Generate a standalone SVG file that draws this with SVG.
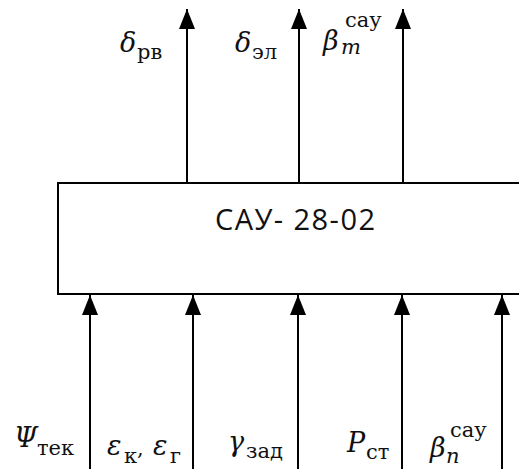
<svg xmlns="http://www.w3.org/2000/svg" width="519" height="469" viewBox="0 0 519 469">
<defs>
<marker id="ah" markerUnits="userSpaceOnUse" markerWidth="20" markerHeight="16" viewBox="0 0 20 16" refX="20" refY="8" orient="auto">
<path d="M0,0 L20,8 L0,16 Z" fill="#000"/>
</marker>
<style>
.ln{stroke:#000;stroke-width:2;fill:none}
.m{font-family:"DejaVu Serif","Liberation Serif",serif;font-style:italic;font-size:27px;fill:#111}
.s{font-family:"DejaVu Serif","Liberation Serif",serif;font-size:21px;fill:#111}
.si{font-family:"DejaVu Serif","Liberation Serif",serif;font-style:italic;font-size:21px;fill:#111}
.t{font-family:"Open Sans","Liberation Sans",sans-serif;font-size:29px;fill:#111}
</style>
</defs>
<rect width="519" height="469" fill="#fff"/>
<g id="connectors">
<line class="ln" x1="187" y1="183" x2="187" y2="9" marker-end="url(#ah)"/>
<line class="ln" x1="299" y1="183" x2="299" y2="9" marker-end="url(#ah)"/>
<line class="ln" x1="403" y1="183" x2="403" y2="9" marker-end="url(#ah)"/>
<line class="ln" x1="90" y1="469" x2="90" y2="295" marker-end="url(#ah)"/>
<line class="ln" x1="193" y1="469" x2="193" y2="295" marker-end="url(#ah)"/>
<line class="ln" x1="298" y1="469" x2="298" y2="295" marker-end="url(#ah)"/>
<line class="ln" x1="402" y1="469" x2="402" y2="295" marker-end="url(#ah)"/>
<line class="ln" x1="502" y1="469" x2="502" y2="295" marker-end="url(#ah)"/>
</g>
<g id="sau">
<rect class="ln" x="58" y="183" width="480" height="111" fill="#fff"/>
<text class="t" x="215" y="230" textLength="160" lengthAdjust="spacing">САУ- 28-02</text>
</g>
<g id="out-labels">
<text class="m" x="120" y="52">δ</text><text class="s" x="137" y="59">рв</text>
<text class="m" x="235" y="52">δ</text><text class="s" x="252" y="59">эл</text>
<text class="m" x="323" y="50">β</text><text class="s" x="345" y="27">сау</text><text class="si" x="341" y="54">m</text>
</g>
<g id="in-labels">
<text class="m" x="14" y="447">Ψ</text><text class="s" x="37" y="455">тек</text>
<text class="m" x="107" y="455">ε</text><text class="s" x="124" y="463">к</text><text class="s" x="137" y="455">,</text>
<text class="m" x="153" y="455">ε</text><text class="s" x="170" y="463">г</text>
<text class="m" x="228" y="451">γ</text><text class="s" x="246" y="458">зад</text>
<text class="m" x="347" y="452">P</text><text class="s" x="366" y="459">ст</text>
<text class="m" x="430" y="457">β</text><text class="s" x="450" y="437">сау</text><text class="si" x="446" y="463">n</text>
</g>
</svg>
